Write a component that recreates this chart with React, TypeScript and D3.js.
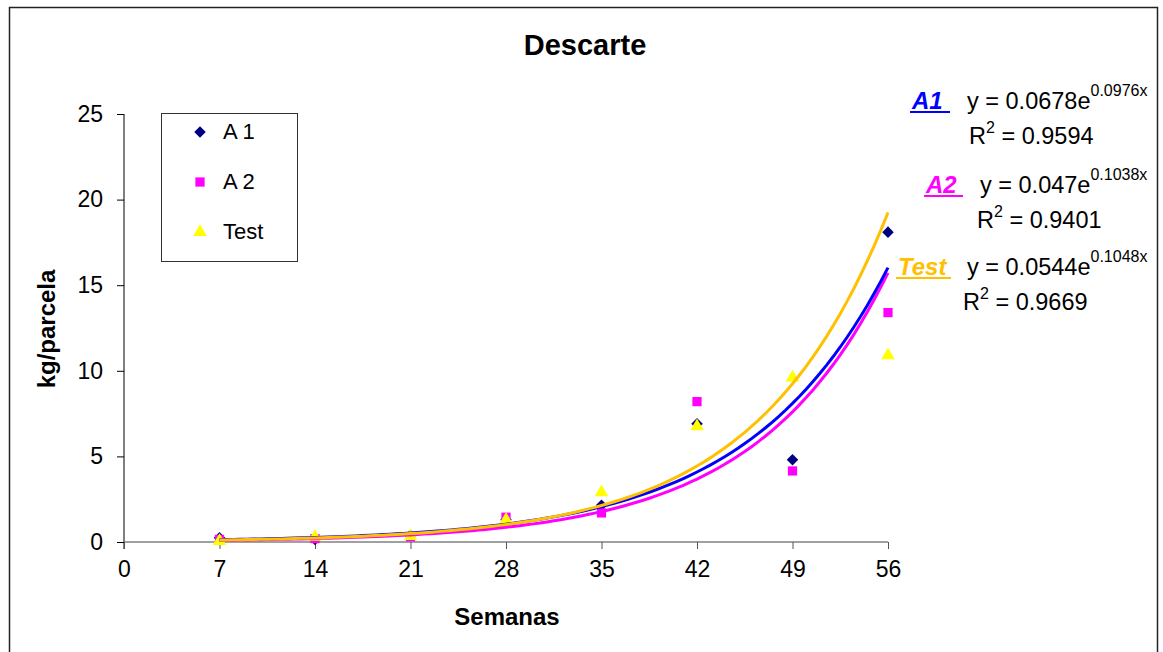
import React, { useRef, useEffect } from 'react';
import * as d3 from 'd3';

// weeks on the x axis
const semanas: number[] = [7, 14, 21, 28, 35, 42, 49, 56];

// kg/parcela
const a1: number[] = [0.25, 0.15, 0.4, 1.3, 2.15, 6.9, 4.8, 18.1];
const a2: number[] = [0.15, 0.2, 0.3, 1.45, 1.7, 8.2, 4.15, 13.4];
const test: number[] = [0.05, 0.3, 0.35, 1.3, 2.9, 6.75, 9.6, 10.9];

// exponential trendline coefficients, y = a * e^(b x)
const trendA: number[] = [0.0678, 0.047, 0.0544];
const trendB: number[] = [0.0976, 0.1038, 0.1048];
const trendR2: string[] = ['0.9594', '0.9401', '0.9669'];

const xTicks: number[] = [0, 7, 14, 21, 28, 35, 42, 49, 56];
const yTicks: number[] = [0, 5, 10, 15, 20, 25];

const FONT = 'Arial, "Liberation Sans", sans-serif';

const App = () => {
    const svgRef = useRef<SVGSVGElement | null>(null);

    useEffect(() => {
        const svg = d3.select(svgRef.current);
        svg.selectAll('*').remove();

        const x = d3.scaleLinear().domain([0, 56]).range([124, 888]);
        const y = d3.scaleLinear().domain([0, 25]).range([542, 114]);

        // outer chart border
        svg.append('rect')
            .attr('x', 9.5).attr('y', 7.5)
            .attr('width', 1148).attr('height', 660)
            .attr('fill', 'white')
            .attr('stroke', '#222').attr('stroke-width', 1.5);

        // title
        svg.append('text')
            .attr('x', 585).attr('y', 55)
            .attr('text-anchor', 'middle')
            .attr('font-family', FONT).attr('font-weight', 'bold').attr('font-size', 29)
            .text('Descarte');

        // y axis
        const yAxis = svg.append('g')
            .attr('transform', 'translate(124,0)')
            .call(d3.axisLeft(y).tickValues(yTicks).tickSize(7).tickPadding(14));
        yAxis.select('.domain').attr('stroke', '#000').attr('d', `M0,${y(25)}V${y(0) + 7}`);
        yAxis.selectAll('text').attr('font-family', FONT).attr('font-size', 23).attr('fill', '#000');

        // x axis
        const xAxis = svg.append('g')
            .attr('transform', 'translate(0,542)')
            .call(d3.axisBottom(x).tickValues(xTicks).tickSize(7).tickPadding(12));
        xAxis.select('.domain').attr('stroke', '#808080').attr('stroke-width', 1.5).attr('d', `M${x(0)},0H${x(56)}`);
        xAxis.selectAll('.tick line').attr('stroke', '#555');
        xAxis.selectAll('text').attr('font-family', FONT).attr('font-size', 23).attr('fill', '#000');

        // axis titles
        svg.append('text')
            .attr('x', 507).attr('y', 625)
            .attr('text-anchor', 'middle')
            .attr('font-family', FONT).attr('font-weight', 'bold').attr('font-size', 24)
            .text('Semanas');
        svg.append('text')
            .attr('transform', 'translate(55,329) rotate(-90)')
            .attr('text-anchor', 'middle')
            .attr('font-family', FONT).attr('font-weight', 'bold').attr('font-size', 24)
            .text('kg/parcela');

        const diamond = d3.symbol().type(d3.symbolDiamond2).size(85);
        const square = d3.symbol().type(d3.symbolSquare).size(85);
        const triangle = d3.symbol().type(d3.symbolTriangle).size(80);

        const series = [
            { name: 'A 1', values: a1, shape: diamond, fill: '#000080' },
            { name: 'A 2', values: a2, shape: square, fill: '#FF00FF' },
            { name: 'Test', values: test, shape: triangle, fill: '#FFFF00' },
        ];

        // markers
        series.forEach(s => {
            svg.append('g')
                .selectAll('path')
                .data(semanas)
                .enter()
                .append('path')
                .attr('d', s.shape as any)
                .attr('transform', (d, i) => `translate(${x(d)},${y(s.values[i])})`)
                .attr('fill', s.fill);
        });

        // trendlines (A2 under A1, Test on top)
        const trendColors = ['#0000FF', '#FF00FF', '#FFC000'];
        const xs = d3.range(7, 56.01, 0.5);
        const line = d3.line<number>().x(d => x(d[0])).y(d => y(d[1])) as any;
        [1, 0, 2].forEach(k => {
            svg.append('path')
                .datum(xs.map(v => [v, trendA[k] * Math.exp(trendB[k] * v)]))
                .attr('d', line)
                .attr('fill', 'none')
                .attr('stroke', trendColors[k])
                .attr('stroke-width', 3);
        });

        // legend
        const legend = svg.append('g');
        legend.append('rect')
            .attr('x', 161.5).attr('y', 113.5)
            .attr('width', 136).attr('height', 148)
            .attr('fill', 'white').attr('stroke', '#333').attr('stroke-width', 1);
        series.forEach((s, i) => {
            legend.append('path')
                .attr('d', s.shape as any)
                .attr('transform', `translate(200,${132 + i * 50})`)
                .attr('fill', s.fill);
            legend.append('text')
                .attr('x', 223).attr('y', 139 + i * 50)
                .attr('font-family', FONT).attr('font-size', 22)
                .text(s.name);
        });

        // trendline equations
        const labels = ['A1', 'A2', 'Test'];
        const labelX = [912, 926, 898];
        const labelW = [38, 37, 53];
        const eqX = [967, 980, 967];
        const r2X = [969, 977, 963];
        const rowY = [109, 193, 275];
        const coefText = ['0.0678', '0.047', '0.0544'];
        labels.forEach((lab, k) => {
            const g = svg.append('g').attr('font-family', FONT);
            g.append('text')
                .attr('x', labelX[k]).attr('y', rowY[k])
                .attr('font-size', 24).attr('font-weight', 'bold').attr('font-style', 'italic')
                .attr('fill', trendColors[k])
                .text(lab);
            g.append('line')
                .attr('x1', labelX[k] - 2).attr('x2', labelX[k] + labelW[k])
                .attr('y1', rowY[k] + 3).attr('y2', rowY[k] + 3)
                .attr('stroke', trendColors[k]).attr('stroke-width', 2);
            const eq = g.append('text')
                .attr('x', eqX[k]).attr('y', rowY[k])
                .attr('font-size', 23.5);
            eq.append('tspan').text(`y = ${coefText[k]}e`);
            eq.append('tspan').attr('dy', -13).attr('font-size', 16).text(`${trendB[k]}x`);
            const r2 = g.append('text')
                .attr('x', r2X[k]).attr('y', rowY[k] + 35)
                .attr('font-size', 23.5);
            r2.append('tspan').text('R');
            r2.append('tspan').attr('dy', -11).attr('font-size', 16).text('2');
            r2.append('tspan').attr('dy', 11).text(` = ${trendR2[k]}`);
        });
    }, []);

    return (
        <svg
            ref={svgRef}
            width={1163}
            height={652}
            style={{ position: 'absolute', left: 0, top: 0, display: 'block' }}
        />
    );
};

export default App;
